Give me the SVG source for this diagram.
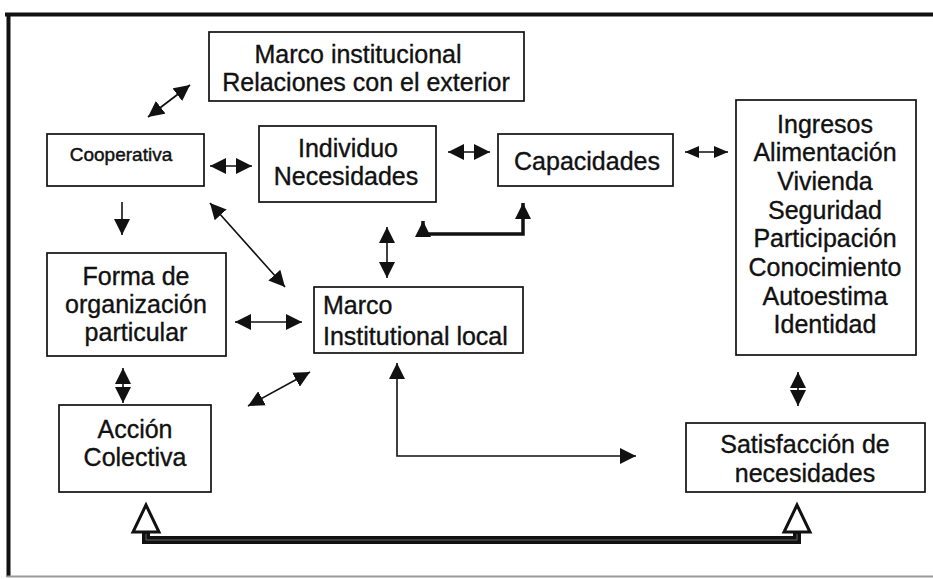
<svg xmlns="http://www.w3.org/2000/svg" width="933" height="579" viewBox="0 0 933 579">
<style>
.box{fill:#fff;stroke:#111;stroke-width:1.7}
.t{font-family:"Liberation Sans",Arial,sans-serif;font-size:25px;fill:#111;stroke:#111;stroke-width:0.35;text-anchor:middle}
.ts{font-family:"Liberation Sans",Arial,sans-serif;font-size:19px;fill:#111;stroke:#111;stroke-width:0.45;text-anchor:middle}
.tl{font-family:"Liberation Sans",Arial,sans-serif;font-size:25px;fill:#111;stroke:#111;stroke-width:0.35}
.ln{fill:none;stroke:#111;stroke-width:1.6}
.ah{marker-start:url(#h);marker-end:url(#h)}
</style>
<defs>
<marker id="h" viewBox="0 0 16 16" refX="16" refY="8" markerWidth="16" markerHeight="16" orient="auto-start-reverse" markerUnits="userSpaceOnUse"><path d="M0,0 L16,8 L0,16 z" fill="#111"/></marker>
<marker id="hs" viewBox="0 0 14 12" refX="14" refY="6" markerWidth="14" markerHeight="12" orient="auto-start-reverse" markerUnits="userSpaceOnUse"><path d="M0,0 L14,6 L0,12 z" fill="#111"/></marker>
</defs>
<rect width="933" height="579" fill="#fff"/>
<g id="frame">
<line x1="5" y1="14.5" x2="933" y2="14.5" stroke="#111" stroke-width="4"/>
<line x1="8.5" y1="13" x2="8.5" y2="577" stroke="#111" stroke-width="4"/>
<line x1="7" y1="576.5" x2="933" y2="576.5" stroke="#999" stroke-width="2"/>
</g>
<g id="marco-institucional">
<rect class="box" x="209" y="32" width="315" height="69"/>
<text class="t" x="358" y="63">Marco institucional</text>
<text class="t" x="366" y="91">Relaciones con el exterior</text>
</g>
<g id="cooperativa">
<rect class="box" x="47" y="134" width="157" height="52"/>
<text class="ts" x="121" y="161">Cooperativa</text>
</g>
<g id="individuo">
<rect class="box" x="259" y="126" width="177" height="76"/>
<text class="t" x="348" y="157">Individuo</text>
<text class="t" x="346" y="185">Necesidades</text>
</g>
<g id="capacidades">
<rect class="box" x="498" y="134" width="175" height="52"/>
<text class="t" x="587" y="170">Capacidades</text>
</g>
<g id="lista">
<rect class="box" x="736" y="100" width="180" height="255"/>
<text class="t" x="825" y="133">Ingresos</text>
<text class="t" x="825" y="161">Alimentación</text>
<text class="t" x="825" y="190">Vivienda</text>
<text class="t" x="825" y="219">Seguridad</text>
<text class="t" x="825" y="247">Participación</text>
<text class="t" x="825" y="276">Conocimiento</text>
<text class="t" x="825" y="305">Autoestima</text>
<text class="t" x="825" y="333">Identidad</text>
</g>
<g id="forma">
<rect class="box" x="47" y="253" width="179" height="103"/>
<text class="t" x="136" y="285">Forma de</text>
<text class="t" x="136" y="313">organización</text>
<text class="t" x="136" y="341">particular</text>
</g>
<g id="marco-local">
<rect class="box" x="314" y="287" width="209" height="66"/>
<text class="tl" x="323" y="314">Marco</text>
<text class="tl" x="323" y="345">Institutional local</text>
</g>
<g id="accion">
<rect class="box" x="59" y="405" width="152" height="87"/>
<text class="t" x="135" y="438">Acción</text>
<text class="t" x="135" y="466">Colectiva</text>
</g>
<g id="satisfaccion">
<rect class="box" x="686" y="423" width="239" height="69"/>
<text class="t" x="805" y="453">Satisfacción de</text>
<text class="t" x="805" y="482">necesidades</text>
</g>
<g id="connectors">
<path class="ln ah" d="M148,117 L190,85"/>
<path class="ln ah" d="M210,166 L252,166"/>
<path class="ln ah" d="M448,152 L490,152"/>
<path class="ln" marker-start="url(#hs)" marker-end="url(#hs)" d="M685,152 L728,152"/>
<path class="ln" marker-end="url(#h)" d="M122,202 L122,235"/>
<path class="ln ah" d="M210,203 L285,287"/>
<path class="ln ah" d="M387,227 L387,278"/>
<path class="ah" fill="none" stroke="#111" stroke-width="3.5" d="M423,221 L423,234 L523,234 L523,203"/>
<path class="ln ah" d="M235,322 L302,322"/>
<path class="ln ah" d="M123,368 L123,403"/>
<path class="ln ah" d="M248,406 L310,372"/>
<path class="ln ah" d="M397,363 L397,456 L636,456"/>
<path class="ln ah" d="M798,372 L798,406"/>
<path fill="none" stroke="#111" stroke-width="8" d="M146,532 L146,540 L797,540 L797,532"/>
<path fill="none" stroke="#666" stroke-width="1" d="M146,534 L146,540 L797,540 L797,534"/>
<polygon points="146,505 133,532 159,532" fill="#fff" stroke="#111" stroke-width="3" stroke-linejoin="miter"/>
<polygon points="797,505 784,532 810,532" fill="#fff" stroke="#111" stroke-width="3" stroke-linejoin="miter"/>
</g>
</svg>
